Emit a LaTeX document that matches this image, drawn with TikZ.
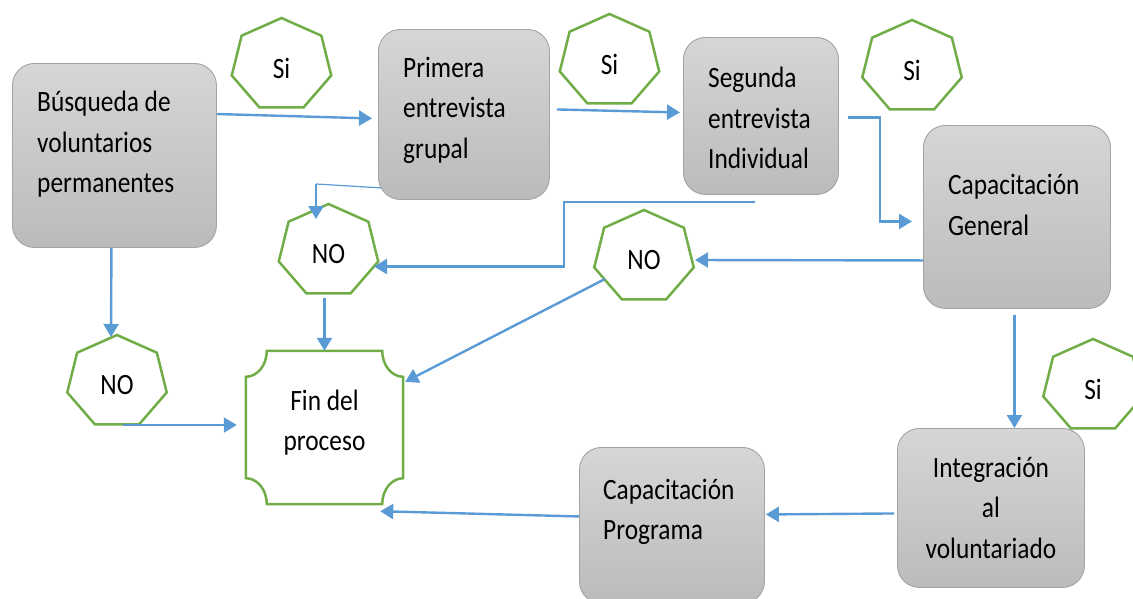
\documentclass[tikz,border=0pt]{standalone}
\usepackage{fontspec}
\setmainfont{Carlito}[FakeStretch=0.86]
\usetikzlibrary{arrows.meta,calc}
\definecolor{arrblue}{HTML}{5B9BD5}
\definecolor{hepgreen}{HTML}{70AD47}
\definecolor{boxtop}{HTML}{D6D6D6}
\definecolor{boxbot}{HTML}{BBBBBB}
\definecolor{boxedge}{HTML}{A3A3A3}
\newcommand\hepdraw[1]{%
  \draw[heptline] ($(#1.center)+(0,-3)+(90:51pt and 47pt)$)
    \foreach \k in {1,...,6}{ -- ($(#1.center)+(0,-3)+(90+\k*360/7:51pt and 47pt)$)} -- cycle;}
\begin{document}
\begin{tikzpicture}[x=1pt,y=-1pt,
  every node/.style={font=\fontsize{29.5}{40.5}\selectfont, text=black, inner sep=0pt},
  procbox/.style={rounded corners=22pt, draw=boxedge, line width=0.9pt, top color=boxtop, bottom color=boxbot, anchor=north west},
  boxtext/.style={align=left, anchor=west},
  heptext/.style={align=center},
  heptline/.style={draw=hepgreen, line width=2.5pt, line join=miter},
  finshape/.style={draw=hepgreen, line width=2.5pt},
  arr/.style={draw=arrblue, line width=2.4pt, -{Triangle[length=13pt,width=15pt]}},
  thinline/.style={draw=arrblue, line width=1.2pt},
]
\useasboundingbox (0,0) rectangle (1133,598);
\clip (0,0) rectangle (1133,598);

% process boxes
\node[procbox, minimum width=204pt, minimum height=184pt] (b1) at (12,63) {};
\node[procbox, minimum width=171pt, minimum height=170pt] (b2) at (378,29) {};
\node[procbox, minimum width=155pt, minimum height=157pt] (b3) at (683,37) {};
\node[procbox, minimum width=187pt, minimum height=183pt] (b4) at (923,125) {};
\node[procbox, minimum width=187pt, minimum height=159pt, align=center] (b5) at (897,428) {Integración\\al\\voluntariado};
\node[procbox, minimum width=185pt, minimum height=156pt] (b6) at (579,447) {};

\node[boxtext] (t1) at (37,144.5) {Búsqueda de\\voluntarios\\permanentes};
\node[boxtext] (t2) at (403,110) {Primera\\entrevista\\grupal};
\node[boxtext] (t3) at (708,118) {Segunda\\entrevista\\Individual};
\node[boxtext] (t4) at (948,205) {Capacitación\\General};
\node[boxtext] (t6) at (603,512) {Capacitación\\Programa};

% end node
\node[minimum width=157pt, minimum height=153pt,
      label={[align=center, yshift=5pt]center:Fin del\\proceso}] (fin) at (324.5,427.5) {};
\draw[finshape] ($(fin.north west)+(21,0)$) -- ($(fin.north east)+(-21,0)$)
  arc[start angle=180, end angle=270, x radius=21pt, y radius=26pt]
  -- ($(fin.south east)+(0,-26)$)
  arc[start angle=90, end angle=180, x radius=21pt, y radius=26pt]
  -- ($(fin.south west)+(21,0)$)
  arc[start angle=0, end angle=90, x radius=21pt, y radius=26pt]
  -- ($(fin.north west)+(0,26)$)
  arc[start angle=-90, end angle=0, x radius=21pt, y radius=26pt] -- cycle;

% decision heptagons
\node[heptext] (h1) at (281.5,68) {Si};
\node[heptext] (h2) at (609.5,64) {Si};
\node[heptext] (h3) at (912,70) {Si};
\node[heptext] (h4) at (328.5,254) {NO};
\node[heptext] (h5) at (644,260) {NO};
\node[heptext] (h6) at (117,385) {NO};
\node[heptext] (h7) at (1093,389) {Si};
\hepdraw{h1}\hepdraw{h2}\hepdraw{h3}\hepdraw{h4}\hepdraw{h5}\hepdraw{h6}\hepdraw{h7}

% connectors
\coordinate (c4) at (316,184);
\coordinate (c5) at (755,202);
\draw[arr] ($(b1.north east)+(0,51)$) -- ($(b2.west)+(-6,4)$);
\draw[arr] ($(b2.east)+(7,-5)$) -- ($(b3.west)+(-3,-3.5)$);
\draw[arr] ($(b3.east)+(9,1.5)$) -| ($(b4.west)+(-43,4.5)$) -- ($(b4.west)+(-11,4.5)$);
\draw[thinline] ($(b2.south west)+(3,-12)$) -- (c4);
\draw[arr] (c4) -- ($(h4.center)+(-12.5,-35)$);
\draw[arr] (c5) -- ++(-191,0) |- ($(h4.center)+(45.5,12.5)$);
\draw[arr] ($(h4.center)+(-4,44)$) -- (fin.north);
\draw[arr] ($(h5.center)+(-39,19)$) -- ($(fin.north east)+(2,31)$);
\draw[arr] ($(b4.west)+(0,43.5)$) -- ($(h5.center)+(51,0)$);
\draw[arr] ($(b4.south)+(-2.5,6)$) -- ($(b5.north)+(23.5,0)$);
\draw[arr] ($(b5.west)+(-3,5.5)$) -- ($(b6.east)+(1,-11)$);
\draw[arr] ($(b6.west)+(0,-9)$) -- ($(fin.south east)+(-23,7)$);
\draw[arr] ($(b1.south)+(-3,0)$) -- ($(h6.center)+(-6,-48)$);
\draw[arr] ($(h6.center)+(6,40)$) -- ($(fin.west)+(-9,-2.5)$);
\end{tikzpicture}
\end{document}
